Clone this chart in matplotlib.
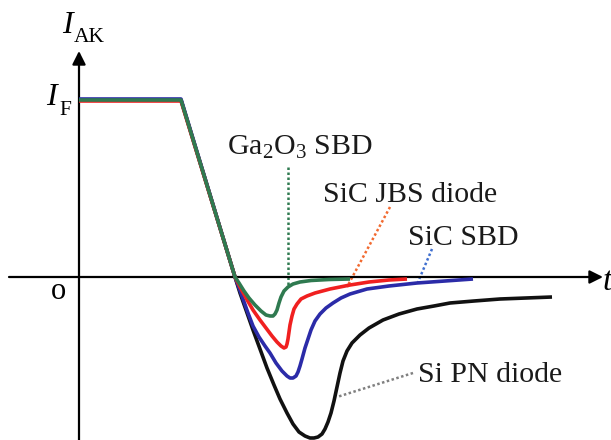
import matplotlib
matplotlib.use("Agg")
import matplotlib.pyplot as plt

plt.rcParams["font.family"] = ["Liberation Serif", "DejaVu Serif"]
plt.rcParams["mathtext.fontset"] = "custom"
plt.rcParams["mathtext.rm"] = "Liberation Serif"
plt.rcParams["mathtext.it"] = "Liberation Serif:italic"

# Reverse-recovery current waveforms (schematic, arbitrary units)
si_pn_t = [0, 102, 156, 161, 167, 174, 181, 188, 195, 201, 208, 214, 220, 226, 231, 235, 239,
           243, 246, 249, 252, 255, 258, 261, 264, 268, 273, 281, 290, 304, 320, 338, 355,
           371, 395, 421, 447, 473]
si_pn_i = [177, 177, 0, -16, -33, -53, -72, -91, -108, -122, -136, -147, -155, -159, -161, -161,
           -160, -157, -152, -145, -136, -124, -110, -96, -84, -74, -66, -58, -51, -43, -37,
           -32, -29, -26, -24, -22, -21, -20]

sic_sbd_t = [0, 102, 156, 160, 164, 169, 174, 180, 186, 191, 197, 203, 208, 211, 214, 217, 219,
             221, 223, 226, 229, 232, 236, 241, 247, 254, 262, 271, 288, 310, 338, 366, 394]
sic_sbd_i = [178, 178, 0, -11, -22, -36, -49, -60, -69, -76, -86, -94, -99, -101, -101, -99, -95,
             -89, -82, -71, -62, -53, -44, -37, -31, -26, -21, -17, -12, -9, -6, -4, -2]

sic_jbs_t = [0, 102, 156, 161, 167, 174, 181, 187, 193, 198, 202, 205, 207, 208, 209, 210, 211,
             213, 215, 218, 222, 228, 236, 251, 271, 290, 310, 328]
sic_jbs_i = [176, 176, 0, -10, -21, -33, -43, -51, -59, -65, -69, -71, -70, -67, -62, -55, -48,
             -39, -32, -27, -22, -19, -16, -12, -8, -5, -3, -2]

ga2o3_t = [0, 102, 156, 160, 165, 170, 176, 182, 187, 191, 194, 196, 198, 200, 202, 205, 209,
           214, 221, 232, 250, 271]
ga2o3_i = [177, 177, 0, -6, -14, -21, -28, -34, -38, -39, -39, -37, -33, -26, -20, -14, -10,
           -7, -5, -3.5, -2.5, -2]

labels = ["Si PN diode", "SiC SBD", "SiC JBS diode", "Ga$_2$O$_3$ SBD"]
colors = ["#111111", "#2b2ba8", "#f02020", "#2f7a50"]
leader_colors = ["#808080", "#3f6fd0", "#f26a30", "#2f7a50"]

fig = plt.figure(figsize=(6.11, 4.40), dpi=100)
ax = fig.add_axes([0, 0, 1, 1])
ax.set_xlim(-79, 532)
ax.set_ylim(-163, 277)
ax.axis("off")

# Coordinate axes with arrow heads
ax.annotate("", xy=(524, 0), xytext=(-70, 0),
            arrowprops=dict(arrowstyle="-|>", lw=1.6, color="black", mutation_scale=20,
                            shrinkA=0, shrinkB=0))
ax.annotate("", xy=(0, 226), xytext=(0, -163),
            arrowprops=dict(arrowstyle="-|>", lw=1.6, color="black", mutation_scale=20,
                            shrinkA=0, shrinkB=0))

series = [(si_pn_t, si_pn_i), (sic_sbd_t, sic_sbd_i), (sic_jbs_t, sic_jbs_i), (ga2o3_t, ga2o3_i)]
for (t, i), c in zip(series, colors):
    ax.plot(t, i, color=c, lw=2.6, solid_joinstyle="round", solid_capstyle="butt", zorder=3)

# Dotted leader lines from labels to curves
leaders = [((334, -96), (258, -120)),
           ((353, 28), (339, -5)),
           ((311, 70), (268, -10)),
           ((209, 110), (209, -8))]
for ((x0, y0), (x1, y1)), c in zip(leaders, leader_colors):
    ax.plot([x0, x1], [y0, y1], color=c, lw=1.8, linestyle=(0, (1, 1)), zorder=2)

label_pos = [(339, -105), (329, 32), (244, 75), (148, 122)]
for (x, y), s in zip(label_pos, labels):
    ax.text(x, y, s, fontsize=21.5, ha="left", va="baseline", color="#1a1a1a")

# Axis labels
ax.text(-17, 244, "I", fontsize=23, style="italic", ha="left", va="baseline")
ax.text(-5, 235, "AK", fontsize=15.5, ha="left", va="baseline")
ax.text(-33, 172, "I", fontsize=23, style="italic", ha="left", va="baseline")
ax.text(-20, 162, "F", fontsize=15.5, ha="left", va="baseline")
ax.text(-21, -22, "o", fontsize=22, ha="center", va="baseline")
ax.text(524, -13, "t", fontsize=24, style="italic", ha="left", va="baseline")

fig.savefig("out.png", dpi=100)
